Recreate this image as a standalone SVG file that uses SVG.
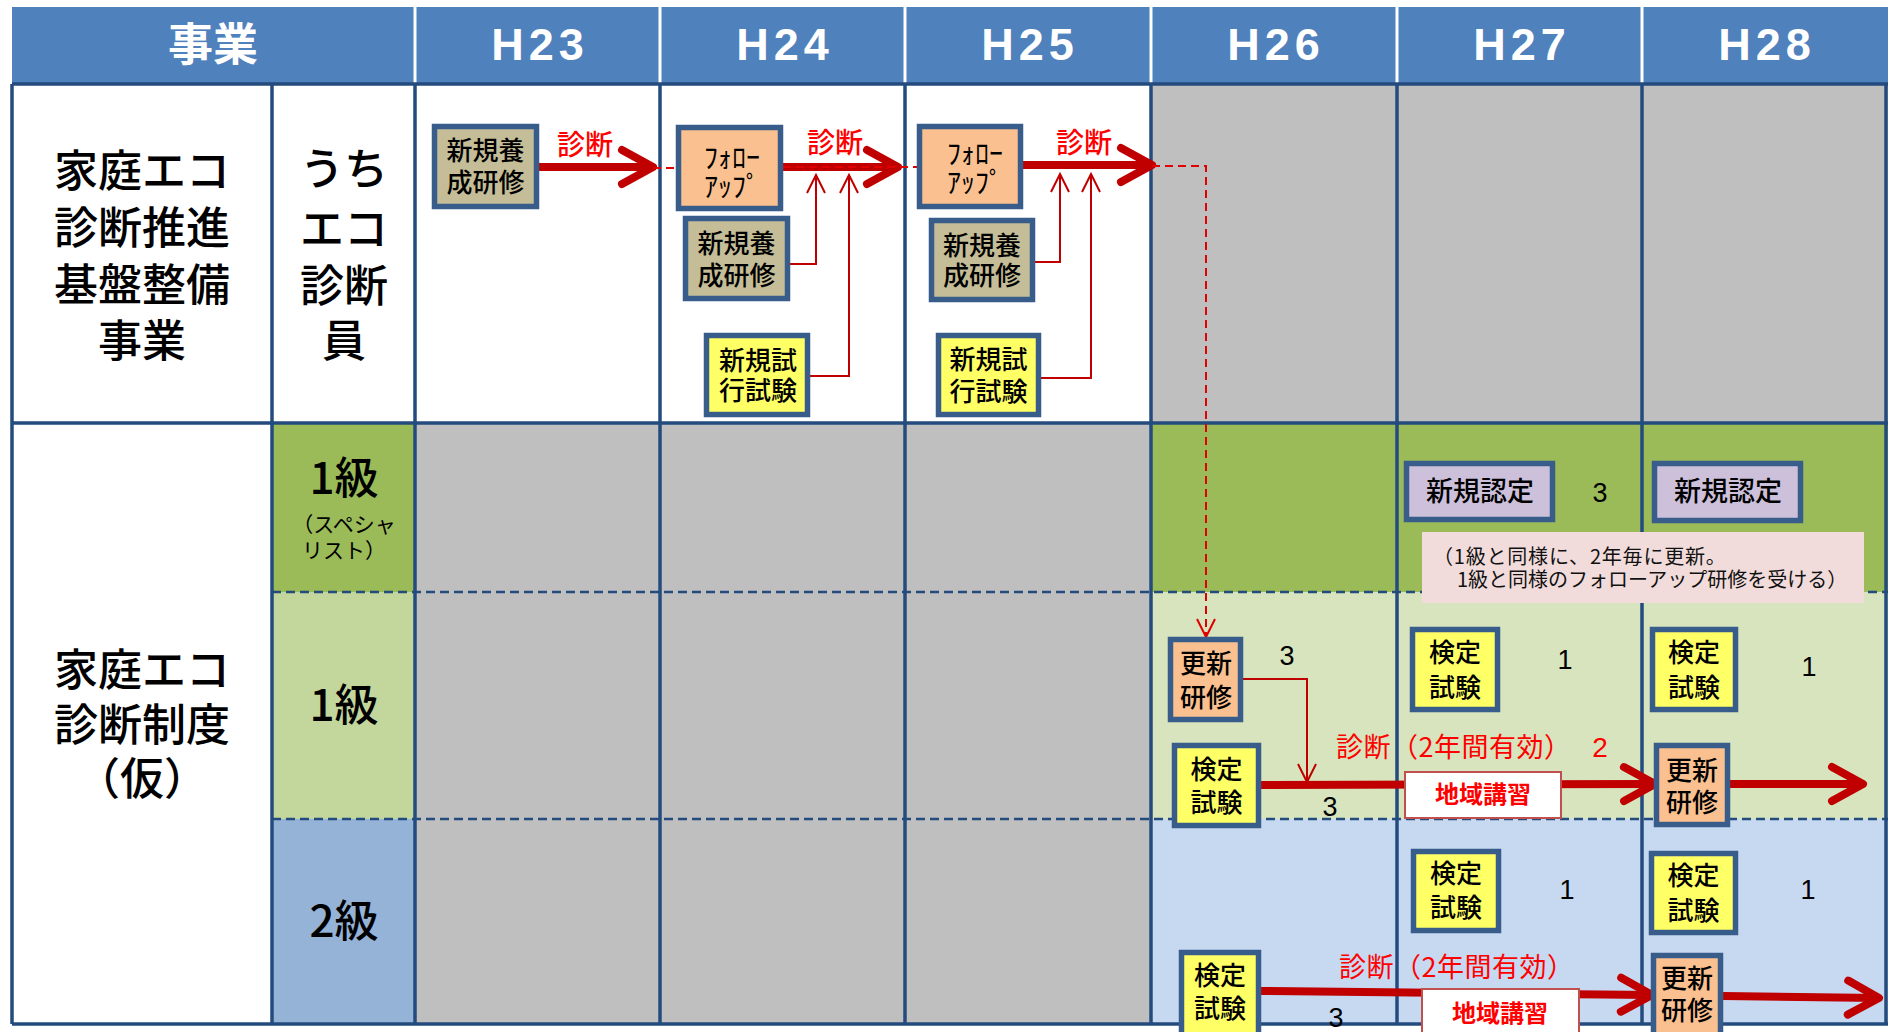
<svg xmlns="http://www.w3.org/2000/svg" width="1888" height="1032" viewBox="0 0 1888 1032">
<style>
.jp{font-family:"Noto Sans CJK JP","Noto Sans",sans-serif;font-weight:500;}
.lat{font-family:"Liberation Sans",Arial,sans-serif;}
.reg{font-weight:400;}
.c{text-anchor:middle;dominant-baseline:central;}
.l{text-anchor:start;dominant-baseline:central;}
.box{stroke:#385D8A;stroke-width:5.5;}
.tan{fill:#C4BD97;}
.peach{fill:#FAC090;}
.yel{fill:#FFFF66;}
.lav{fill:#CCC0DA;}
.bt{font-size:26px;fill:#000;}
.big{font-size:44px;fill:#000;}
.hd{font-size:45px;fill:#FFFFFF;font-weight:bold;}
.num{font-size:27px;fill:#000;}
.red{fill:#FF0000;}
.thick{stroke:#C00000;stroke-width:8;fill:none;marker-end:url(#bigHead);}
.thin{stroke:#C00000;stroke-width:2;fill:none;marker-end:url(#smallHead);}
.dash{stroke:#E00000;stroke-width:2;fill:none;stroke-dasharray:8 5;}
.grid{stroke:#234B7E;stroke-width:3.5;}
.gdash{stroke:#234B7E;stroke-width:2.5;stroke-dasharray:9 5;}
.hsep{stroke:#FFFFFF;stroke-width:3;}
.area{stroke:#C0504D;stroke-width:2;fill:#FFFFFF;}
.at{font-size:24px;font-weight:bold;fill:#FF0000;}
</style>
<defs>
<marker id="bigHead" viewBox="-40 -24 48 48" refX="0" refY="0" markerWidth="48" markerHeight="48" markerUnits="userSpaceOnUse" orient="auto">
<path d="M-31,-17 L0,0 L-31,17" fill="none" stroke="#C00000" stroke-width="8" stroke-linecap="round" stroke-linejoin="round"/>
</marker>
<marker id="smallHead" viewBox="-22 -12 26 24" refX="0" refY="0" markerWidth="26" markerHeight="24" markerUnits="userSpaceOnUse" orient="auto">
<path d="M-18,-9 L0,0 L-18,9" fill="none" stroke="#C00000" stroke-width="2"/>
</marker>
<marker id="dashHead" viewBox="-22 -12 26 24" refX="0" refY="0" markerWidth="26" markerHeight="24" markerUnits="userSpaceOnUse" orient="auto">
<path d="M-18,-9 L0,0 L-18,9" fill="none" stroke="#E00000" stroke-width="2"/>
</marker>
</defs>

<g id="backgrounds">
<rect x="0" y="0" width="1888" height="1032" fill="#FFFFFF"/>
<rect x="12" y="7" width="1876" height="77" fill="#4F81BD"/>
<rect x="12" y="84" width="1139" height="339" fill="#FFFFFF"/>
<rect x="1151" y="84" width="737" height="339" fill="#BFBFBF"/>
<rect x="272" y="423" width="143" height="169" fill="#9BBB59"/>
<rect x="415" y="423" width="736" height="601" fill="#BFBFBF"/>
<rect x="1151" y="423" width="737" height="169" fill="#9BBB59"/>
<rect x="272" y="592" width="143" height="227" fill="#C3D69B"/>
<rect x="1151" y="592" width="737" height="227" fill="#D7E4BD"/>
<rect x="272" y="819" width="143" height="205" fill="#95B3D7"/>
<rect x="1151" y="819" width="737" height="205" fill="#C6D9F1"/>
</g>

<g id="grid">
<line class="hsep" x1="415" y1="7" x2="415" y2="83"/>
<line class="hsep" x1="660" y1="7" x2="660" y2="83"/>
<line class="hsep" x1="905" y1="7" x2="905" y2="83"/>
<line class="hsep" x1="1151" y1="7" x2="1151" y2="83"/>
<line class="hsep" x1="1397" y1="7" x2="1397" y2="83"/>
<line class="hsep" x1="1642" y1="7" x2="1642" y2="83"/>
<line class="grid" x1="12" y1="84" x2="1888" y2="84"/>
<line class="grid" x1="12" y1="423" x2="1888" y2="423"/>
<line class="grid" x1="12" y1="1024" x2="1888" y2="1024"/>
<line class="gdash" x1="272" y1="592" x2="1888" y2="592"/>
<line class="gdash" x1="272" y1="819" x2="1888" y2="819"/>
<line class="grid" x1="12" y1="84" x2="12" y2="1024"/>
<line class="grid" x1="272" y1="84" x2="272" y2="1024"/>
<line class="grid" x1="415" y1="84" x2="415" y2="1024"/>
<line class="grid" x1="660" y1="84" x2="660" y2="1024"/>
<line class="grid" x1="905" y1="84" x2="905" y2="1024"/>
<line class="grid" x1="1151" y1="84" x2="1151" y2="1024"/>
<line class="grid" x1="1397" y1="84" x2="1397" y2="1024"/>
<line class="grid" x1="1642" y1="84" x2="1642" y2="1024"/>
<line class="grid" x1="1886" y1="84" x2="1886" y2="1024"/>
</g>

<g id="headers">
<text class="jp c hd" x="213" y="41">事業</text>
<text class="lat c hd" x="540" y="44" letter-spacing="5">H23</text>
<text class="lat c hd" x="785" y="44" letter-spacing="5">H24</text>
<text class="lat c hd" x="1030" y="44" letter-spacing="5">H25</text>
<text class="lat c hd" x="1276" y="44" letter-spacing="5">H26</text>
<text class="lat c hd" x="1522" y="44" letter-spacing="5">H27</text>
<text class="lat c hd" x="1767" y="44" letter-spacing="5">H28</text>
</g>

<g id="rowlabels">
<text class="jp c big" x="142" y="168">家庭エコ</text>
<text class="jp c big" x="142" y="225">診断推進</text>
<text class="jp c big" x="142" y="282">基盤整備</text>
<text class="jp c big" x="142" y="338">事業</text>
<text class="jp c big" x="344" y="166">うち</text>
<text class="jp c big" x="344" y="226">エコ</text>
<text class="jp c big" x="344" y="283">診断</text>
<text class="jp c big" x="344" y="338">員</text>
<text class="jp c big" x="142" y="667">家庭エコ</text>
<text class="jp c big" x="142" y="722">診断制度</text>
<text class="jp c big" x="142" y="776">（仮）</text>
<text class="jp c big" x="344" y="475">1級</text>
<text class="jp c reg" x="344" y="523" font-size="21">（スペシャ</text>
<text class="jp c reg" x="344" y="549" font-size="21">リスト）</text>
<text class="jp c big" x="344" y="702">1級</text>
<text class="jp c big" x="344" y="918">2級</text>
</g>

<g id="connectors">
<path class="thick" d="M539,167 L653,167"/>
<path class="thick" d="M783,167 L898,167"/>
<path class="thick" d="M1023,165 L1152,165"/>
<path class="thick" d="M1261,785 L1655,784"/>
<path class="thick" d="M1730,784 L1863,784"/>
<path class="thick" d="M1261,991 L1652,995"/>
<path class="thick" d="M1723,996 L1879,998"/>
<path class="thin" d="M789,264 L816,264 L816,175"/>
<path class="thin" d="M810,376 L849,376 L849,175"/>
<path class="thin" d="M1035,262 L1060,262 L1060,174"/>
<path class="thin" d="M1041,378 L1091,378 L1091,174"/>
<path class="thin" d="M1243,679 L1307,679 L1307,782"/>
<path class="dash" d="M653,168 L676,168"/>
<path class="dash" d="M783,167 L917,167"/>
<path class="dash" d="M1152,166 L1206,166 L1206,637" marker-end="url(#dashHead)"/>
</g>

<g id="n1"><rect class="box tan" x="434.5" y="126.5" width="102" height="80"/>
<text class="jp c bt" x="485.5" y="148">新規養</text><text class="jp c bt" x="485.5" y="180">成研修</text></g>
<g id="n2"><rect class="box peach" x="678.5" y="127.5" width="102" height="81"/>
<text class="jp l reg" x="704" y="156" font-size="28">ﾌｫﾛｰ</text><text class="jp l reg" x="704" y="185" font-size="28">ｱｯﾌﾟ</text></g>
<g id="n3"><rect class="box tan" x="685.5" y="218.5" width="102" height="80"/>
<text class="jp c bt" x="736.5" y="241" font-size="27">新規養</text><text class="jp c bt" x="736.5" y="273" font-size="27">成研修</text></g>
<g id="n4"><rect class="box yel" x="706.5" y="335.5" width="101" height="79"/>
<text class="jp c bt" x="758" y="358" font-size="27">新規試</text><text class="jp c bt" x="758" y="388" font-size="27">行試験</text></g>
<g id="n5"><rect class="box peach" x="919.5" y="126.5" width="101" height="80"/>
<text class="jp l reg" x="947" y="152" font-size="28">ﾌｫﾛｰ</text><text class="jp l reg" x="947" y="181" font-size="28">ｱｯﾌﾟ</text></g>
<g id="n6"><rect class="box tan" x="931.5" y="220.5" width="101" height="79"/>
<text class="jp c bt" x="982" y="243" font-size="27">新規養</text><text class="jp c bt" x="982" y="273" font-size="27">成研修</text></g>
<g id="n7"><rect class="box yel" x="938.5" y="335.5" width="100" height="79"/>
<text class="jp c bt" x="988.5" y="357" font-size="27">新規試</text><text class="jp c bt" x="988.5" y="389" font-size="27">行試験</text></g>

<g id="n8"><rect class="box lav" x="1406.5" y="463.5" width="146" height="56"/>
<text class="jp c" x="1480" y="489" font-size="27">新規認定</text></g>
<g id="n9"><rect class="box lav" x="1654.5" y="463.5" width="146" height="57"/>
<text class="jp c" x="1728" y="489" font-size="27">新規認定</text></g>
<g id="note"><rect x="1422" y="532" width="442" height="71" fill="#F2DCDB"/>
<text class="jp l reg" x="1433" y="555" font-size="20" fill="#111" letter-spacing="0.8">（1級と同様に、2年毎に更新。</text>
<text class="jp l reg" x="1457" y="578" font-size="20" fill="#111">1級と同様のフォローアップ研修を受ける）</text></g>

<g id="n10"><rect class="box peach" x="1170.5" y="639.5" width="70" height="80"/>
<text class="jp c bt" x="1206" y="661">更新</text><text class="jp c bt" x="1206" y="695">研修</text></g>
<g id="n11"><rect class="box yel" x="1174.5" y="745.5" width="84" height="80"/>
<text class="jp c bt" x="1216.5" y="767">検定</text><text class="jp c bt" x="1216.5" y="800">試験</text></g>
<g id="n12"><rect class="box yel" x="1412.5" y="629.5" width="85" height="80"/>
<text class="jp c bt" x="1455" y="650">検定</text><text class="jp c bt" x="1455" y="685">試験</text></g>
<g id="n13"><rect class="box yel" x="1652.5" y="629.5" width="83" height="80"/>
<text class="jp c bt" x="1694" y="650">検定</text><text class="jp c bt" x="1694" y="685">試験</text></g>
<g id="n14"><rect class="area" x="1405" y="772" width="156" height="46"/>
<text class="jp c at" x="1483" y="792">地域講習</text></g>
<g id="n15"><rect class="box peach" x="1656.5" y="745.5" width="71" height="79"/>
<text class="jp c bt" x="1692" y="768">更新</text><text class="jp c bt" x="1692" y="800">研修</text></g>
<g id="n16"><rect class="box yel" x="1413.5" y="851.5" width="85" height="79"/>
<text class="jp c bt" x="1456" y="871">検定</text><text class="jp c bt" x="1456" y="905">試験</text></g>
<g id="n17"><rect class="box yel" x="1651.5" y="853.5" width="84" height="79"/>
<text class="jp c bt" x="1693.5" y="873">検定</text><text class="jp c bt" x="1693.5" y="908">試験</text></g>
<g id="n18"><rect class="box yel" x="1181.5" y="952.5" width="77" height="100"/>
<text class="jp c bt" x="1220" y="973">検定</text><text class="jp c bt" x="1220" y="1006">試験</text></g>
<g id="n19"><rect class="area" x="1422" y="989" width="157" height="60"/>
<text class="jp c at" x="1500" y="1011">地域講習</text></g>
<g id="n20"><rect class="box peach" x="1653.5" y="955.5" width="67" height="100"/>
<text class="jp c bt" x="1687" y="976">更新</text><text class="jp c bt" x="1687" y="1008">研修</text></g>

<g id="labels">
<text class="jp c red" x="585" y="143" font-size="28">診断</text>
<text class="jp c red" x="835" y="141" font-size="28">診断</text>
<text class="jp c red" x="1084" y="141" font-size="28">診断</text>
<text class="jp l red reg" x="1336" y="745" font-size="27" letter-spacing="0.5">診断（2年間有効）</text>
<text class="lat c red" x="1600" y="747" font-size="28">2</text>
<text class="jp l red reg" x="1339" y="965" font-size="27" letter-spacing="0.5">診断（2年間有効）</text>
<text class="lat c num" x="1600" y="493">3</text>
<text class="lat c num" x="1287" y="656">3</text>
<text class="lat c num" x="1565" y="660">1</text>
<text class="lat c num" x="1809" y="667">1</text>
<text class="lat c num" x="1330" y="807">3</text>
<text class="lat c num" x="1567" y="890">1</text>
<text class="lat c num" x="1808" y="890">1</text>
<text class="lat c num" x="1336" y="1018">3</text>
</g>
</svg>
